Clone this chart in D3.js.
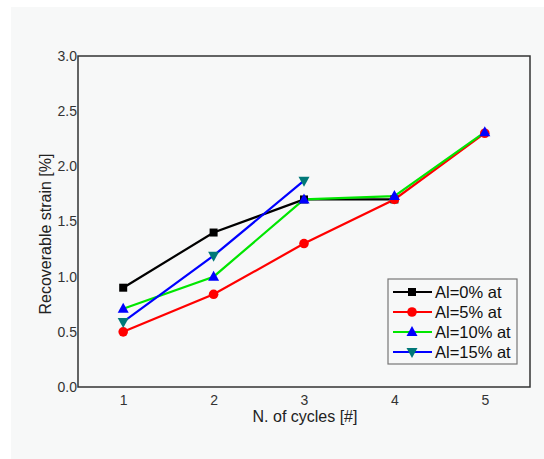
<!DOCTYPE html>
<html><head><meta charset="utf-8">
<script src="https://cdn.jsdelivr.net/npm/d3@7"></script>
<style>body{margin:0;background:#fff;}svg{display:block;font-family:Arial,"Liberation Sans",sans-serif;}</style>
</head><body>
<svg id="c" width="544" height="459"></svg>
<script>
const cycles = [1, 2, 3, 4, 5];
const al0 = [0.90, 1.40, 1.70, 1.70];
const al5 = [0.50, 0.84, 1.30, 1.70, 2.30];
const al10 = [0.71, 1.00, 1.70, 1.73, 2.31];
const al15 = [0.59, 1.19, 1.87];
const seriesNames = ["Al=0% at", "Al=5% at", "Al=10% at", "Al=15% at"];
const yTicks = [0.0, 0.5, 1.0, 1.5, 2.0, 2.5, 3.0];
const xTicks = [1, 2, 3, 4, 5];

const series = [
  {name: seriesNames[0], vals: al0, line: "#000000", mk: "#000000", sym: "square"},
  {name: seriesNames[1], vals: al5, line: "#ff0000", mk: "#ff0000", sym: "circle"},
  {name: seriesNames[2], vals: al10, line: "#00e600", mk: "#0000ff", sym: "up"},
  {name: seriesNames[3], vals: al15, line: "#0000ff", mk: "#007878", sym: "down"}
];

const svg = d3.select("#c");
svg.append("rect").attr("x", 11).attr("y", 7).attr("width", 533).attr("height", 452).attr("fill", "#f7f8f8");

const L = 78, R = 530, T = 56, B = 387;
const x = d3.scaleLinear().domain([0.5, 5.5]).range([L, R]);
const y = d3.scaleLinear().domain([0, 3]).range([B, T]);

// frame
svg.append("rect").attr("x", L).attr("y", T).attr("width", R - L).attr("height", B - T)
  .attr("fill", "none").attr("stroke", "#333").attr("stroke-width", 1.5);

const ax = svg.append("g").attr("transform", `translate(0,${B})`)
  .call(d3.axisBottom(x).tickValues(xTicks).tickSize(0).tickPadding(8).tickFormat(d3.format("d")));
ax.select(".domain").remove();
ax.selectAll("text").attr("font-size", 14).attr("fill", "#333").attr("font-family", "Arial, 'Liberation Sans', sans-serif");

const ay = svg.append("g").attr("transform", `translate(${L},0)`)
  .call(d3.axisLeft(y).tickValues(yTicks).tickSize(0).tickPadding(1).tickFormat(d3.format(".1f")));
ay.select(".domain").remove();
ay.selectAll("text").attr("font-size", 14).attr("fill", "#333").attr("font-family", "Arial, 'Liberation Sans', sans-serif");

svg.append("text").attr("x", (L + R) / 2 + 1).attr("y", 422).attr("text-anchor", "middle")
  .attr("font-size", 16).attr("fill", "#222").text("N. of cycles [#]");
svg.append("text").attr("transform", "translate(51,234) rotate(-90)").attr("text-anchor", "middle")
  .attr("font-size", 16).attr("fill", "#222").text("Recoverable strain [%]");

function drawMarker(g, sym, cx, cy, color) {
  if (sym === "square") {
    g.append("rect").attr("x", cx - 4).attr("y", cy - 4).attr("width", 8).attr("height", 8).attr("fill", color);
  } else if (sym === "circle") {
    g.append("circle").attr("cx", cx).attr("cy", cy).attr("r", 4.8).attr("fill", color);
  } else if (sym === "up") {
    g.append("path").attr("d", `M${cx},${cy - 6}L${cx + 5.5},${cy + 4}L${cx - 5.5},${cy + 4}Z`).attr("fill", color);
  } else {
    g.append("path").attr("d", `M${cx},${cy + 6}L${cx + 5.5},${cy - 4}L${cx - 5.5},${cy - 4}Z`).attr("fill", color);
  }
}

const line = d3.line().x((d, i) => x(cycles[i])).y(d => y(d));
series.forEach(s => {
  svg.append("path").attr("d", line(s.vals)).attr("fill", "none").attr("stroke", s.line).attr("stroke-width", 2.2);
});
series.forEach(s => {
  const g = svg.append("g");
  s.vals.forEach((v, i) => drawMarker(g, s.sym, x(cycles[i]), y(v), s.mk));
});

// legend
const lg = svg.append("g");
lg.append("rect").attr("x", 388).attr("y", 279).attr("width", 129).attr("height", 85)
  .attr("fill", "#f7f8f8").attr("stroke", "#777").attr("stroke-width", 1.2);
series.forEach((s, i) => {
  const yy = 292 + i * 20;
  lg.append("line").attr("x1", 393).attr("x2", 432).attr("y1", yy).attr("y2", yy).attr("stroke", s.line).attr("stroke-width", 2.2);
  drawMarker(lg, s.sym, 412, yy, s.mk);
  lg.append("text").attr("x", 435).attr("y", yy + 6).attr("font-size", 16.5).attr("fill", "#111").text(s.name);
});
</script>
</body></html>
